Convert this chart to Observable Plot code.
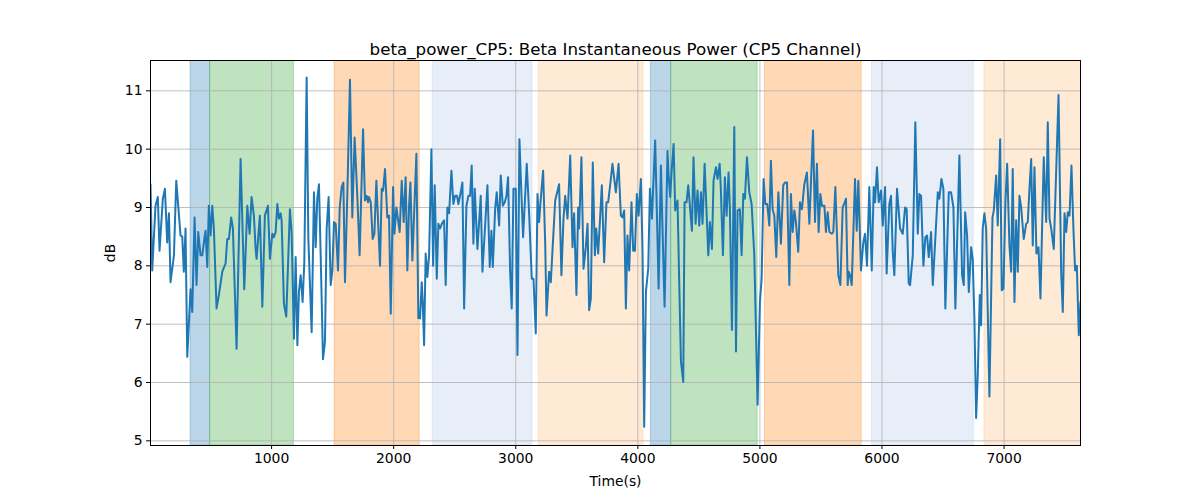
<!DOCTYPE html>
<html><head><meta charset="utf-8">
<script src="https://cdn.jsdelivr.net/npm/d3@7"></script>
<script src="https://cdn.jsdelivr.net/npm/@observablehq/plot@0.6"></script>
<style>body{margin:0;background:#fff;font-family:"DejaVu Sans",sans-serif}</style>
</head><body><div id="chart"></div>
<script>
const chartTitle = "beta_power_CP5: Beta Instantaneous Power (CP5 Channel)";
const xLabel = "Time(s)";
const yLabel = "dB";

const times = [
  8,22,49,68,82,109,126,145,159,172,200,219,254,268,281,295,309,336,350,369,385,399,418,432,451,459,473,486,500,514,527,549,568,596,623,637,650,669,683,713,746,776,801,820,836,855,869,877,904,924,945,
  970,986,1006,1019,1033,1047,1060,1074,1082,1101,1120,1150,1164,1183,1197,1211,1224,1238,1254,1268,1287,1301,1328,1347,1361,1374,1388,1402,1421,1437,1451,1467,1484,1497,1511,1525,1544,1558,1574,1588,1601,1620,1642,1661,1680,1702,1721,1749,1765,1779,1790,1798,1812,1828,1842,1858,1888,
  1902,1913,1929,1948,1962,1976,1995,2006,2022,2038,2049,2066,2082,2098,2112,2126,2137,2153,2186,2202,2216,2230,2238,2249,2262,2276,2290,2309,2323,2336,2353,2366,2380,2394,2413,2426,2440,2454,2473,2489,2503,2519,2530,2549,2563,2577,2596,2612,2626,2639,2653,2664,2686,2713,2727,2746,2768,2787,2801,2812,2831,
  2844,2864,2877,2894,2910,2924,2937,2954,2967,2981,3000,3014,3030,3047,3060,3090,3109,3131,3145,3164,3178,3191,3205,3224,3241,3252,3273,3287,3323,3355,3374,3391,3405,3424,3446,3465,3478,3497,3511,3519,3538,3555,3574,3588,3601,3615,3631,3648,3659,3675,3689,3705,3724,3743,3757,3779,
  3792,3820,3842,3861,3874,3888,3902,3915,3929,3948,3962,3976,3992,4006,4025,4038,4052,4066,4085,4099,4115,4142,4156,4170,4189,4202,4219,4243,4252,4265,4276,4293,4306,4325,4339,4353,4372,4383,4399,4413,4443,4456,4473,4489,4503,4517,4530,4547,4577,4590,4607,4620,4640,4653,4670,4680,4697,4713,
  4727,4743,4754,4771,4790,4804,4817,4836,4850,4864,4877,4894,4913,4932,4954,4981,5000,5014,5030,5044,5060,5077,5090,5104,5118,5134,5151,5172,5191,5205,5222,5241,5254,5268,5282,5295,5314,5328,5344,5364,5385,5405,5418,5435,5451,5467,5481,5495,5508,5528,5541,5555,5569,5590,5601,5618,5642,5659,
  5678,5705,5719,5727,5738,5752,5779,5793,5806,5828,5847,5861,5877,5896,5916,5932,5943,5959,5973,5992,6006,6025,6038,6060,6074,6088,6101,6123,6148,6170,6189,6202,6219,6230,6252,6273,6293,6306,6320,6339,6355,6369,6383,6402,6416,6435,6457,6470,6487,6503,6519,6547,6566,6585,6601,
  6634,6656,6670,6681,6697,6711,6730,6743,6757,6771,6784,6801,6812,6825,6839,6853,6880,6905,6916,6935,6948,6968,6981,6995,7011,7025,7044,7058,7071,7085,7099,7112,7126,7140,7161,7181,7194,7208,7222,7235,7249,7265,7282,7298,7325,7345,7358,7372,7386,7407,7446,7468,7481,7495,7509,7522,7536,7552,7569,7582,7596,7612,7626
];
const values = [
  9.4,7.92,9.03,9.18,8.26,9.15,9.32,8.4,8.9,7.72,8.18,9.46,8.52,8.5,7.9,8.64,6.44,7.6,7.21,8.83,7.67,8.58,8.18,8.18,8.49,8.6,7.98,9.03,8.52,9.03,8.64,7.27,7.5,7.9,8.04,8.46,8.46,8.83,8.64,6.58,9.83,7.6,9.03,8.55,9.18,8.86,8.29,8.12,8.86,7.3,8.86,
  9.03,8.12,8.55,8.49,8.58,9.06,8.81,8.9,8.78,7.35,7.13,8.97,8.58,6.75,8.15,6.64,7.55,7.84,7.38,8.06,11.23,8.46,6.86,9.26,8.32,9.15,9.4,8.18,6.4,6.7,8.64,9.18,7.67,7.9,8.75,8.72,7.92,9.0,9.35,9.43,7.72,9.2,11.19,8.83,10.2,9.2,8.18,10.34,9.12,9.2,9.09,9.18,9.09,8.46,8.55,9.46,8.0,
  9.32,9.29,9.66,8.83,8.86,7.18,9.35,8.55,9.0,8.75,8.58,9.46,8.75,9.52,7.92,9.03,9.43,8.09,9.92,7.1,7.1,7.72,7.38,6.64,8.21,7.81,8.18,10.0,8.0,9.38,7.78,8.72,8.64,8.72,8.78,7.67,9.0,8.9,9.63,9.06,9.2,9.2,9.06,9.26,9.43,7.27,9.03,9.2,9.2,9.72,8.38,9.32,8.29,9.2,7.9,8.58,9.38,7.98,8.6,7.98,8.97,
  9.26,8.69,9.55,9.03,9.09,9.2,9.52,7.9,7.27,9.32,9.32,6.47,10.17,9.2,8.49,9.75,8.92,7.78,7.78,6.84,9.23,8.75,9.15,9.63,8.4,7.15,7.9,7.72,9.12,9.4,7.84,8.81,9.2,8.81,9.89,8.32,8.9,7.5,9.0,8.64,9.86,7.95,8.32,8.72,7.24,7.44,9.77,8.18,8.64,8.21,8.75,9.38,8.06,9.09,9.09,9.49,
  9.75,9.26,9.75,8.86,8.83,8.95,7.27,8.52,7.92,9.09,8.26,8.26,9.23,8.86,9.49,8.29,5.24,7.55,7.95,9.32,8.81,10.15,8.92,7.61,9.72,8.64,7.3,9.97,9.55,9.18,9.6,10.09,8.95,9.12,7.72,6.36,6.01,9.09,9.09,9.38,8.6,9.86,8.72,9.29,8.69,9.26,8.72,9.75,8.18,8.75,8.29,9.46,9.69,9.49,9.75,9.32,8.18,9.52,
  8.86,9.6,8.97,6.9,10.38,6.53,8.95,8.97,8.18,9.23,9.15,9.86,9.26,9.06,8.18,5.62,7.38,7.78,9.49,9.06,9.06,8.69,9.8,8.97,8.86,8.15,9.26,8.38,9.38,9.43,9.43,7.67,9.23,8.58,8.95,8.75,8.24,9.09,8.97,9.4,9.6,8.72,9.43,10.32,8.75,9.75,8.58,9.23,9.03,9.03,8.58,8.92,8.58,8.55,8.58,9.35,7.84,7.67,
  9.0,9.15,7.67,7.9,7.84,7.67,9.49,8.6,9.46,7.92,8.4,8.55,8.0,9.35,7.92,9.35,9.09,9.69,9.09,9.29,8.69,9.35,7.87,9.06,9.2,8.24,7.84,9.32,8.64,8.55,9.0,8.97,7.7,7.67,8.18,10.46,8.55,9.23,9.2,8.0,8.49,8.52,8.15,8.58,7.67,8.4,9.26,9.15,9.49,9.32,7.27,9.26,9.26,9.0,7.27,
  9.89,7.84,7.67,8.92,8.52,7.55,8.32,8.12,7.1,5.39,6.1,7.5,6.98,8.64,8.9,8.64,5.76,8.83,8.95,9.55,8.69,10.17,7.58,7.61,9.09,9.75,8.35,7.9,9.66,7.38,8.78,7.9,9.2,9.0,8.46,8.72,8.75,9.32,9.83,8.35,9.69,8.21,8.32,7.44,9.86,8.75,10.46,8.81,8.64,8.29,10.93,7.87,7.21,8.9,8.58,8.92,8.86,9.72,8.58,7.92,8.0,6.81,7.38
];

const spanStart = [336, 496, 1516, 2320, 3189, 4107, 4273, 5041, 5918, 6839];
const spanEnd   = [496, 1183, 2213, 3137, 4047, 4273, 4981, 5834, 6752, 7700];
const spanKind  = ["blue","green","orange","lightblue","lightorange","blue","green","orange","lightblue","lightorange"];

const xTicks = [1000, 2000, 3000, 4000, 5000, 6000, 7000];
const yTicks = [5, 6, 7, 8, 9, 10, 11];

const kindColor = {blue:"#1f77b4", green:"#2ca02c", orange:"#ff7f0e", lightblue:"#aec7e8", lightorange:"#ffbb78"};

const series = times.map((t, i) => ({t, v: values[i]}));
const spans = spanStart.map((s, i) => ({start: s, end: spanEnd[i], kind: spanKind[i]}));

const spanMarks = Object.keys(kindColor).map(k =>
  Plot.rect(spans.filter(d => d.kind === k), {
    x1: "start", x2: "end", fill: kindColor[k], fillOpacity: 0.3,
    stroke: kindColor[k], strokeOpacity: 0.3, strokeWidth: 1, clip: true
  })
);

const chart = Plot.plot({
  width: 1200, height: 500,
  marginLeft: 150, marginRight: 120, marginTop: 60, marginBottom: 55,
  style: {fontFamily: "DejaVu Sans", fontSize: "13.9px", background: "white", color: "black", overflow: "visible"},
  x: {domain: [8, 7626]},
  y: {domain: [4.92, 11.52]},
  marks: [
    ...spanMarks,
    Plot.gridX(xTicks, {stroke: "#b0b0b0", strokeOpacity: 1, strokeWidth: 0.8}),
    Plot.gridY(yTicks, {stroke: "#b0b0b0", strokeOpacity: 1, strokeWidth: 0.8}),
    Plot.line(series, {x: "t", y: "v", stroke: "#1f77b4", strokeWidth: 2, clip: true}),
    Plot.frame({stroke: "black", strokeWidth: 1}),
    Plot.axisX(xTicks, {tickSize: 4, tickPadding: 4, tickFormat: d => String(d), label: xLabel, labelAnchor: "center", labelArrow: "none", labelOffset: 40}),
    Plot.axisY(yTicks, {tickSize: 4, tickPadding: 4, tickFormat: d => String(d), label: yLabel, labelAnchor: "center", labelArrow: "none", labelOffset: 45}),
    Plot.text([chartTitle], {frameAnchor: "top", lineAnchor: "bottom", dy: -6, fontSize: 16.7, fill: "black"})
  ]
});
document.getElementById("chart").appendChild(chart);
</script>
</body></html>
